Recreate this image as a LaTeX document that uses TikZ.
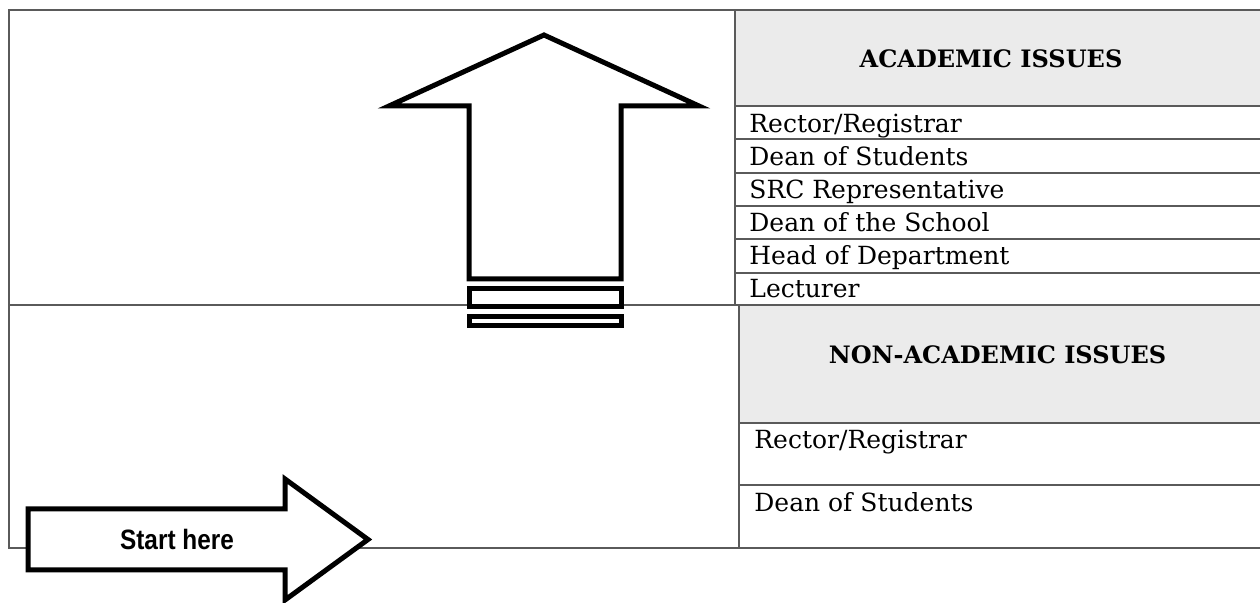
\documentclass[tikz,border=0pt]{standalone}
\usepackage{fontspec}
\setmainfont{DejaVu Serif}
\newfontfamily\startfont[FakeStretch=0.87]{Liberation Sans}
\usepackage{tikz}
\definecolor{headgray}{HTML}{EBEBEB}
\definecolor{framegray}{HTML}{5A5A5A}

\begin{document}
\begin{tikzpicture}[x=0.5pt, y=-0.5pt,
		frameline/.style={draw=framegray, line width=0.85pt},
		bigarrow/.style={draw=black, fill=white, line width=2.5pt, line join=miter},
		rowtext/.style={anchor=base west, inner sep=0pt, font=\fontsize{12.5}{14}\selectfont},
		headtext/.style={inner sep=0pt, font=\bfseries\fontsize{12}{14}\selectfont}]
			%%%%% START %%%%%
			
			\useasboundingbox (0, 0) rectangle (1260, 603);
			
			\fill[headgray] (735, 10) rectangle (1262, 106);
			\fill[headgray] (739, 305) rectangle (1262, 423);
			
			\draw[frameline] (1262, 10) -- (9, 10) -- (9, 548) -- (1262, 548);
			\draw[frameline] (9, 305) -- (1262, 305);
			\draw[frameline] (735, 10) -- (735, 305);
			\draw[frameline] (739, 305) -- (739, 548);
			\foreach \y in {106, 139, 173, 206, 239, 273}
				\draw[frameline] (735, \y) -- (1262, \y);
			\foreach \y in {423, 485}
				\draw[frameline] (739, \y) -- (1262, \y);
			
			\node[headtext] (acadhead) at (991, 58.5) {ACADEMIC ISSUES};
			\foreach \name [count=\i] in {Rector/Registrar, Dean of Students, SRC Representative, Dean of the School, Head of Department, Lecturer}
				\node[rowtext] (acad\i) at (749, {133 + (\i-1)*33}) {\name};
			
			\node[headtext] (nonhead) at (997.5, 355) {NON-ACADEMIC ISSUES};
			\node[rowtext] (non1) at (754, 449) {Rector/Registrar};
			\node[rowtext] (non2) at (754, 512) {Dean of Students};
			
			\draw[bigarrow] (544, 35) -- (699, 106) -- (621, 106) -- (621, 279) -- (469, 279) -- (469, 106) -- (389, 106) -- cycle;
			\draw[bigarrow] (469, 289) rectangle (621, 307);
			\draw[bigarrow] (469, 317) rectangle (621, 326);
			
			\draw[bigarrow] (28, 509) -- (285, 509) -- (285, 479) -- (368, 539.5) -- (285, 600) -- (285, 570) -- (28, 570) -- cycle;
			\node[inner sep=0pt, font=\startfont\bfseries\fontsize{14}{16}\selectfont] (start) at (177, 539) {Start here};
			
			%%%%% END %%%%%
		\end{tikzpicture}
\end{document}
